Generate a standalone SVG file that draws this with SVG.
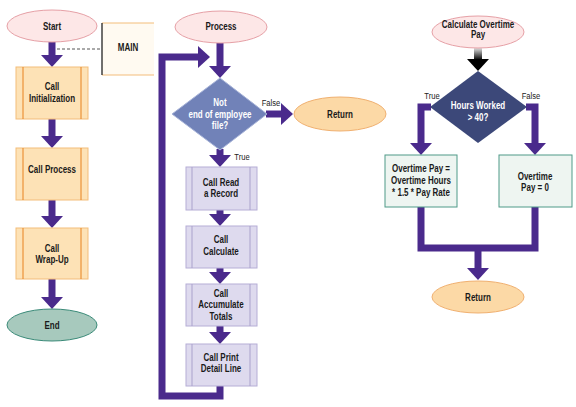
<svg xmlns="http://www.w3.org/2000/svg" width="576" height="407" viewBox="0 0 576 407">
<style>
.t{font-family:"Liberation Sans",Arial,sans-serif;font-weight:bold;font-size:10px;fill:#1a1a1a;text-anchor:middle}
.w{fill:#ffffff}
.lbl{font-family:"Liberation Sans",Arial,sans-serif;font-size:9.5px;fill:#222;text-anchor:middle}
.pink{fill:#fde7e7;stroke:#e6a0a6;stroke-width:1}
.orng{fill:#fcd9a6;stroke:#f0b070;stroke-width:1}
.obox{fill:#fde2b6;stroke:#f3bd7a;stroke-width:1}
.oin{stroke:#e8821e;stroke-width:1}
.lbox{fill:#dedaee;stroke:#b6aed6;stroke-width:1}
.lin{stroke:#aaa2cc;stroke-width:1}
.gbox{fill:#eef5f1;stroke:#4f9a88;stroke-width:1}
.conn{fill:none;stroke:#4a2a8c;stroke-width:7;stroke-linejoin:miter}
</style>
<defs>
<marker id="ah" markerUnits="userSpaceOnUse" markerWidth="12" markerHeight="22" viewBox="0 0 12 22" refX="0" refY="11" orient="auto" overflow="visible">
<path d="M0,0 L12,11 L0,22 Z" fill="#4a2a8c"/>
</marker>
<linearGradient id="blk" x1="0" y1="0" x2="0" y2="1">
<stop offset="0" stop-color="#e0e0e0"/>
<stop offset="1" stop-color="#000000"/>
</linearGradient>
</defs>
<rect width="576" height="407" fill="#ffffff"/>

<g id="connectors">
<line x1="57" y1="49" x2="102" y2="49" stroke="#555" stroke-width="1" stroke-dasharray="3,2"/>
<line class="conn" x1="52" y1="42" x2="52" y2="55" marker-end="url(#ah)"/>
<line class="conn" x1="52" y1="119" x2="52" y2="136" marker-end="url(#ah)"/>
<line class="conn" x1="52" y1="200" x2="52" y2="216" marker-end="url(#ah)"/>
<line class="conn" x1="52" y1="279" x2="52" y2="297" marker-end="url(#ah)"/>
<line class="conn" x1="220" y1="43" x2="220" y2="66" marker-end="url(#ah)"/>
<polyline class="conn" points="220,386 220,396 162,396 162,57 198,57" marker-end="url(#ah)"/>
<line class="conn" x1="220" y1="149" x2="220" y2="155" marker-end="url(#ah)"/>
<line class="conn" x1="220" y1="210" x2="220" y2="214" marker-end="url(#ah)"/>
<line class="conn" x1="220" y1="268" x2="220" y2="272" marker-end="url(#ah)"/>
<line class="conn" x1="220" y1="326" x2="220" y2="332" marker-end="url(#ah)"/>
<line class="conn" x1="266" y1="114" x2="281" y2="114" marker-end="url(#ah)"/>
<text class="lbl" transform="translate(271,106) scale(0.8,1)">False</text>
<text class="lbl" transform="translate(242,160) scale(0.8,1)">True</text>
<rect x="474" y="48" width="8" height="12" fill="url(#blk)"/>
<polygon points="467,59 489,59 478,71" fill="#000"/>
<polyline class="conn" points="431,107 421,107 421,143" marker-end="url(#ah)"/>
<polyline class="conn" points="526,107 535,107 535,143" marker-end="url(#ah)"/>
<polyline class="conn" points="421,207 421,248 535,248 535,207"/>
<line class="conn" x1="478" y1="248" x2="478" y2="268" marker-end="url(#ah)"/>
<text class="lbl" transform="translate(432,99) scale(0.8,1)">True</text>
<text class="lbl" transform="translate(531,99) scale(0.8,1)">False</text>
</g>

<g id="start">
<ellipse class="pink" cx="52" cy="26" rx="45" ry="16"/>
<text class="t" transform="translate(52,30) scale(0.8,1)">Start</text>
</g>
<g id="main">
<rect x="102" y="23" width="52" height="52" fill="#fffaf1"/>
<line x1="102" y1="23" x2="154" y2="23" stroke="#f3bd7a"/>
<line x1="102" y1="75" x2="154" y2="75" stroke="#f3bd7a"/>
<line x1="102" y1="23" x2="102" y2="75" stroke="#111" stroke-width="1.2"/>
<text class="t" transform="translate(128,51) scale(0.8,1)">MAIN</text>
</g>
<g id="init">
<rect class="obox" x="16" y="67" width="72" height="52"/>
<line class="oin" x1="23" y1="67" x2="23" y2="119"/>
<line class="oin" x1="81" y1="67" x2="81" y2="119"/>
<text class="t" transform="translate(52,90) scale(0.8,1)">Call</text>
<text class="t" transform="translate(52,102) scale(0.8,1)">Initialization</text>
</g>
<g id="callprocess">
<rect class="obox" x="16" y="148" width="72" height="52"/>
<line class="oin" x1="23" y1="148" x2="23" y2="200"/>
<line class="oin" x1="81" y1="148" x2="81" y2="200"/>
<text class="t" transform="translate(52,173) scale(0.8,1)">Call Process</text>
</g>
<g id="wrapup">
<rect class="obox" x="16" y="228" width="72" height="51"/>
<line class="oin" x1="23" y1="228" x2="23" y2="279"/>
<line class="oin" x1="81" y1="228" x2="81" y2="279"/>
<text class="t" transform="translate(52,252) scale(0.8,1)">Call</text>
<text class="t" transform="translate(52,263) scale(0.8,1)">Wrap-Up</text>
</g>
<g id="end">
<ellipse cx="52" cy="325" rx="45" ry="16" fill="#a7c9bd" stroke="#3a8a78" stroke-width="1"/>
<text class="t" transform="translate(52,329) scale(0.8,1)">End</text>
</g>

<g id="process">
<ellipse class="pink" cx="221" cy="27" rx="46" ry="16"/>
<text class="t" transform="translate(221,30) scale(0.8,1)">Process</text>
</g>
<g id="decision1">
<polygon points="220,78 267,114 220,150 172,114" fill="#7182b8" stroke="#a8b4d8" stroke-width="1"/>
<text class="t w" transform="translate(220,106) scale(0.8,1)">Not</text>
<text class="t w" transform="translate(220,118) scale(0.8,1)">end of employee</text>
<text class="t w" transform="translate(220,129) scale(0.8,1)">file?</text>
</g>
<g id="return1">
<ellipse class="orng" cx="340" cy="114" rx="46" ry="17"/>
<text class="t" transform="translate(340,118) scale(0.8,1)">Return</text>
</g>
<g id="read">
<rect class="lbox" x="186" y="167" width="71" height="43"/>
<line class="lin" x1="192" y1="167" x2="192" y2="210"/>
<line class="lin" x1="250" y1="167" x2="250" y2="210"/>
<text class="t" transform="translate(221,186) scale(0.8,1)">Call Read</text>
<text class="t" transform="translate(221,197) scale(0.8,1)">a Record</text>
</g>
<g id="calculate">
<rect class="lbox" x="186" y="226" width="71" height="42"/>
<line class="lin" x1="192" y1="226" x2="192" y2="268"/>
<line class="lin" x1="250" y1="226" x2="250" y2="268"/>
<text class="t" transform="translate(221,243) scale(0.8,1)">Call</text>
<text class="t" transform="translate(221,255) scale(0.8,1)">Calculate</text>
</g>
<g id="accumulate">
<rect class="lbox" x="186" y="284" width="71" height="42"/>
<line class="lin" x1="192" y1="284" x2="192" y2="326"/>
<line class="lin" x1="250" y1="284" x2="250" y2="326"/>
<text class="t" transform="translate(221,297) scale(0.8,1)">Call</text>
<text class="t" transform="translate(221,308) scale(0.8,1)">Accumulate</text>
<text class="t" transform="translate(221,320) scale(0.8,1)">Totals</text>
</g>
<g id="print">
<rect class="lbox" x="186" y="344" width="71" height="42"/>
<line class="lin" x1="192" y1="344" x2="192" y2="386"/>
<line class="lin" x1="250" y1="344" x2="250" y2="386"/>
<text class="t" transform="translate(221,361) scale(0.8,1)">Call Print</text>
<text class="t" transform="translate(221,372) scale(0.8,1)">Detail Line</text>
</g>

<g id="calcot">
<ellipse class="pink" cx="478" cy="32" rx="46" ry="16"/>
<text class="t" transform="translate(478,28) scale(0.8,1)">Calculate Overtime</text>
<text class="t" transform="translate(478,38) scale(0.8,1)">Pay</text>
</g>
<g id="decision2">
<polygon points="478,71 527,107 478,143 430,107" fill="#3c4879"/>
<text class="t w" transform="translate(478,109) scale(0.8,1)">Hours Worked</text>
<text class="t w" transform="translate(478,121) scale(0.8,1)">&gt; 40?</text>
</g>
<g id="otpay">
<rect class="gbox" x="385" y="155" width="72" height="52"/>
<text class="t" transform="translate(421,172) scale(0.8,1)">Overtime Pay =</text>
<text class="t" transform="translate(421,184) scale(0.8,1)">Overtime Hours</text>
<text class="t" transform="translate(421,196) scale(0.8,1)">* 1.5 * Pay Rate</text>
</g>
<g id="otzero">
<rect class="gbox" x="499" y="155" width="73" height="52"/>
<text class="t" transform="translate(535,180) scale(0.8,1)">Overtime</text>
<text class="t" transform="translate(535,191) scale(0.8,1)">Pay = 0</text>
</g>
<g id="return2">
<ellipse class="orng" cx="478" cy="297" rx="46" ry="16"/>
<text class="t" transform="translate(478,301) scale(0.8,1)">Return</text>
</g>
</svg>
